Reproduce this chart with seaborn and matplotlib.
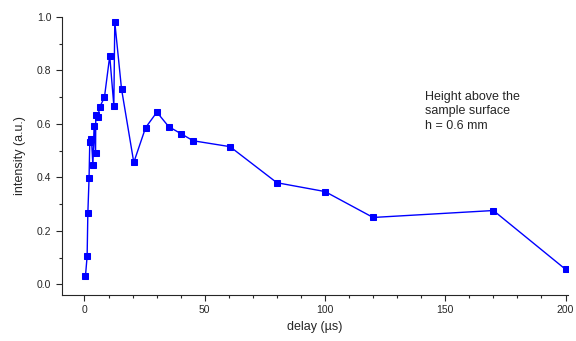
import matplotlib
matplotlib.use("Agg")
import matplotlib.pyplot as plt
import seaborn as sns
import pandas as pd
from matplotlib.ticker import MultipleLocator

sns.set_style("ticks")
plt.rcParams['font.family'] = ['Liberation Sans', 'DejaVu Sans']

# delay (µs) and intensity (a.u.) in measurement order
delay = [0.4, 1.1, 1.4, 1.9, 2.2, 2.9, 3.5, 4.0, 4.6, 4.7, 5.5, 6.4, 8.3, 10.5,
         12.2, 12.6, 15.4, 20.5, 25.4, 30.1, 35.0, 40.2, 45.2, 60.5, 80.0,
         100.0, 120.0, 170.0, 200.0]
intensity = [0.03, 0.105, 0.266, 0.397, 0.532, 0.543, 0.445, 0.593, 0.49, 0.632,
             0.626, 0.664, 0.70, 0.854, 0.669, 0.981, 0.731, 0.456, 0.586, 0.644,
             0.59, 0.563, 0.537, 0.515, 0.38, 0.347, 0.25, 0.276, 0.056]

dados = pd.DataFrame({"delay": delay, "intensity": intensity})

fig = plt.figure(figsize=(5.76, 3.41), dpi=100)
ax = fig.add_axes([0.107, 0.135, 0.879, 0.815])

sns.lineplot(data=dados, x="delay", y="intensity", sort=False, estimator=None,
             color="#0000ff", marker="s", markersize=5, markeredgecolor="#0000ff",
             linewidth=1, ax=ax)

ax.set_xlim(-9.5, 201)
ax.set_ylim(-0.04, 1.0)
ax.xaxis.set_major_locator(MultipleLocator(50))
ax.xaxis.set_minor_locator(MultipleLocator(10))
ax.yaxis.set_major_locator(MultipleLocator(0.2))
ax.yaxis.set_minor_locator(MultipleLocator(0.1))
ax.yaxis.set_major_formatter(matplotlib.ticker.FormatStrFormatter("%.1f"))
ax.tick_params(which="major", length=4, width=0.8, labelsize=7.5, direction="out")
ax.tick_params(which="minor", length=2.5, width=0.8, direction="out")
for s in ("top", "right"):
    ax.spines[s].set_visible(False)

ax.set_xlabel("delay (µs)", fontsize=9)
ax.set_ylabel("intensity (a.u.)", fontsize=9, labelpad=8)

ax.text(0.717, 0.735, "Height above the\nsample surface\nh = 0.6 mm",
        transform=ax.transAxes, fontsize=9, va="top", ha="left", linespacing=1.3)

fig.savefig("out.png", dpi=100)
